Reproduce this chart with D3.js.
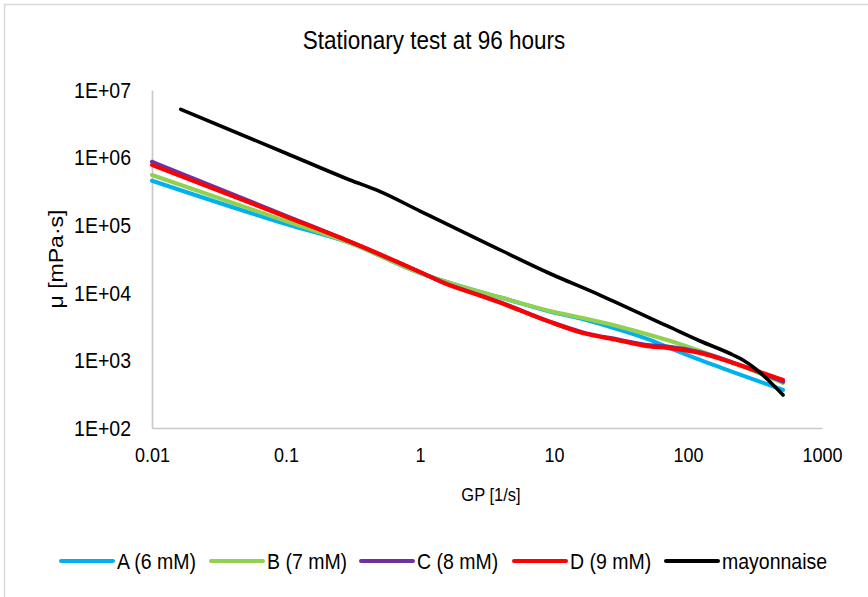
<!DOCTYPE html>
<html>
<head>
<meta charset="utf-8">
<script src="https://cdn.jsdelivr.net/npm/d3@7"></script>
<style>
  html, body { margin: 0; padding: 0; background: #fff; }
  svg { display: block; }
  text { font-family: "Liberation Sans", Arial, sans-serif; fill: #000; }
  .stretch { transform-box: fill-box; transform-origin: center; transform: scaleY(1.15); }
</style>
</head>
<body>
<svg id="chart" width="868" height="597"></svg>
<script>
// ---- data ----
const title = "Stationary test at 96 hours";
const xLabel = "GP [1/s]";
const yLabel = "μ [mPa·s]";
const xTicks = [0.01, 0.1, 1, 10, 100, 1000];
const xTickLabels = ["0.01", "0.1", "1", "10", "100", "1000"];
const yTicks = [1e2, 1e3, 1e4, 1e5, 1e6, 1e7];
const yTickLabels = ["1E+02", "1E+03", "1E+04", "1E+05", "1E+06", "1E+07"];

const seriesNames = ["A (6 mM)", "B (7 mM)", "C (8 mM)", "D (9 mM)", "mayonnaise"];
const seriesColors = ["#00B0F0", "#92D050", "#7030A0", "#FF0000", "#000000"];

const shearRates = [0.01, 0.1, 0.3, 1, 1.5, 3, 4, 9.3, 16.4, 29.5, 52, 70, 123, 217, 512];
const seriesA = [455000, 104000, 54600, 19600, 15000, 9930, 8510, 5290, 4090, 2910, 2004, 1578, 1014, 673, 365];
const seriesB = [553000, 115000, 54600, 19600, 15000, 9930, 8510, 5380, 4240, 3230, 2377, 2004, 1377, 916, 463];
const seriesC = [869000, 138000, 57000, 20300, 14200, 8800, 7200, 3750, 2600, 2050, 1680, 1600, 1320, 930, 484];
const seriesD = [778000, 133000, 57000, 20300, 14000, 8670, 7070, 3700, 2540, 2004, 1607, 1524, 1285, 916, 513];

const mayoRates = [0.0164, 0.1, 0.3, 0.5, 1, 3, 9.3, 22, 70, 123, 217, 257, 327, 389, 512];
const mayoValues = [5180000, 1160000, 467000, 316000, 162000, 56400, 19300, 9270, 3230, 1936, 1202, 1014, 721, 531, 308];

// ---- layout ----
const svg = d3.select("#chart");
const plot = { left: 152, right: 822, top: 90, bottom: 428 };

const x = d3.scaleLog().domain([0.01, 1000]).range([plot.left, plot.right]);
const y = d3.scaleLog().domain([1e2, 1e7]).range([plot.bottom, plot.top]);

// outer border
svg.append("rect")
  .attr("x", 4.5).attr("y", 4.5).attr("width", 900).attr("height", 900)
  .attr("fill", "none").attr("stroke", "#D9D9D9").attr("stroke-width", 1.5);

// title
svg.append("text")
  .attr("class", "stretch")
  .attr("x", 434).attr("y", 48)
  .attr("text-anchor", "middle")
  .style("font-size", "22.5px")
  .text(title);

// axes
const xAxis = d3.axisBottom(x).tickValues(xTicks)
  .tickFormat((d, i) => xTickLabels[i]).tickSize(0).tickPadding(20);
const yAxis = d3.axisLeft(y).tickValues(yTicks)
  .tickFormat((d, i) => yTickLabels[i]).tickSize(0).tickPadding(21);

const gx = svg.append("g").attr("transform", `translate(0,${plot.bottom})`).call(xAxis);
const gy = svg.append("g").attr("transform", `translate(${plot.left},0)`).call(yAxis);

[gx, gy].forEach(g => {
  g.select(".domain").attr("stroke", "#C8C8C8").attr("stroke-width", 1.7);
  g.selectAll("text").attr("class", "stretch")
    .style("font-family", "'Liberation Sans', Arial, sans-serif").attr("fill", "#000");
});
gx.selectAll("text").style("font-size", "18px");
gy.selectAll("text").style("font-size", "19.5px");

// axis labels
svg.append("text")
  .attr("class", "stretch")
  .attr("x", 491).attr("y", 500)
  .attr("text-anchor", "middle")
  .style("font-size", "16.5px")
  .text(xLabel);

svg.append("text")
  .attr("transform", `translate(63,259) rotate(-90) scale(1.15,1)`)
  .attr("text-anchor", "middle")
  .style("font-size", "20px")
  .text(yLabel);

// lines
const line = d3.line()
  .x(d => x(d[0]))
  .y(d => y(d[1]))
  .curve(d3.curveMonotoneX);

const sampleSeries = [seriesA, seriesB, seriesC, seriesD];
const allSeries = sampleSeries.map(vals => shearRates.map((r, i) => [r, vals[i]]));
allSeries.push(mayoRates.map((r, i) => [r, mayoValues[i]]));

svg.append("g").selectAll("path")
  .data(allSeries)
  .join("path")
  .attr("d", line)
  .attr("fill", "none")
  .attr("stroke", (d, i) => seriesColors[i])
  .attr("stroke-width", (d, i) => i === 4 ? 3.6 : 4)
  .attr("stroke-linecap", "round")
  .attr("stroke-linejoin", "round");

// legend
const legendLineStarts = [61, 211, 361, 514, 666];
const legendY = 561;
const lg = svg.append("g");
seriesNames.forEach((name, i) => {
  const x0 = legendLineStarts[i];
  lg.append("line")
    .attr("x1", x0).attr("x2", x0 + 52)
    .attr("y1", legendY).attr("y2", legendY)
    .attr("stroke", seriesColors[i]).attr("stroke-width", 4)
    .attr("stroke-linecap", "round");
  lg.append("text")
    .attr("class", "stretch")
    .attr("x", x0 + 56).attr("y", legendY + 7)
    .style("font-size", "19.5px")
    .text(name);
});
</script>
</body>
</html>
